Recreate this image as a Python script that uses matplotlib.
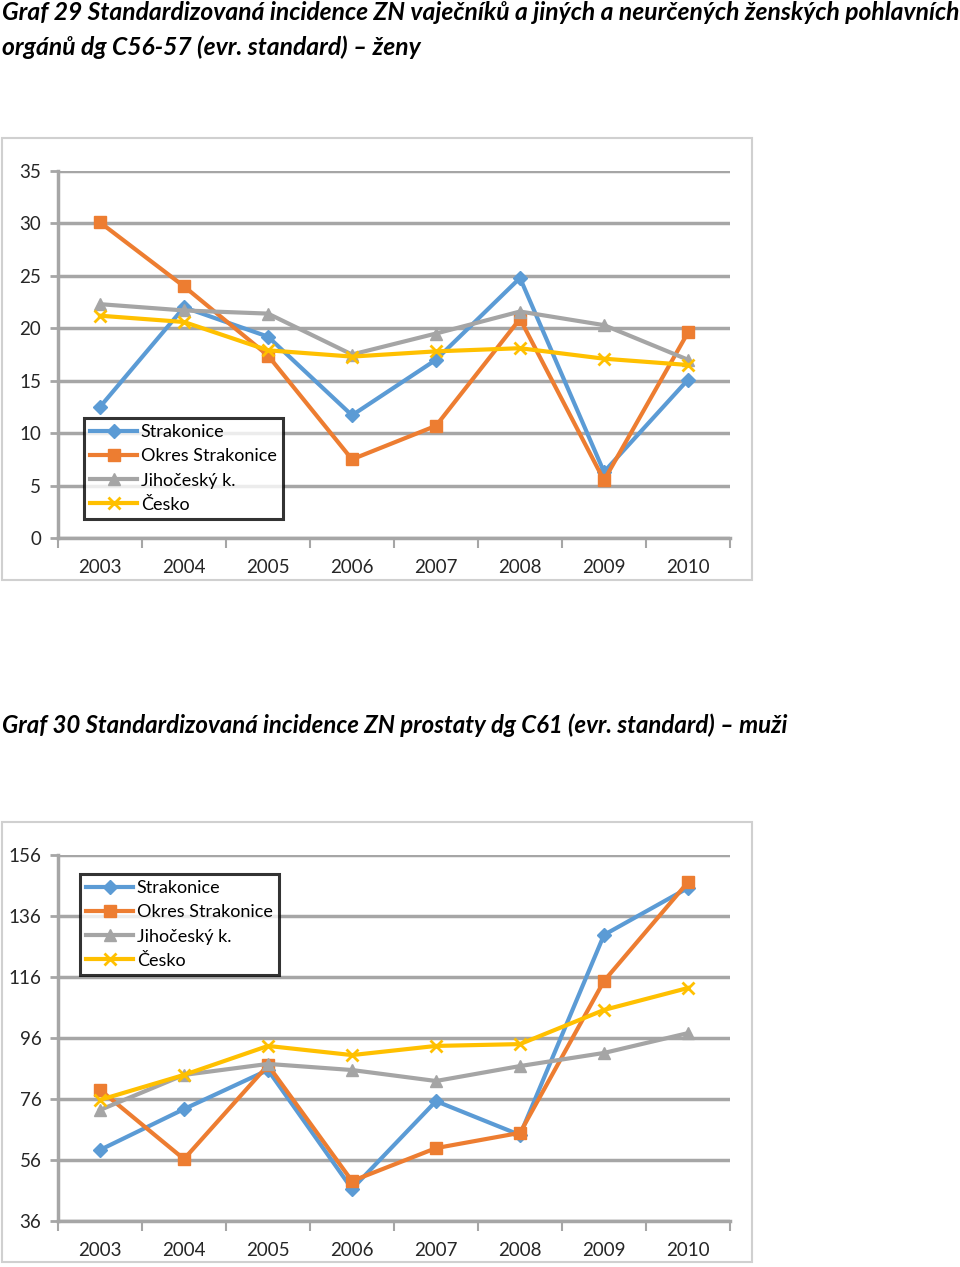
import matplotlib
matplotlib.use('Agg')
import matplotlib.pyplot as plt
from matplotlib.patches import Rectangle

plt.rcParams['font.family'] = ['Lato', 'DejaVu Sans']

# Shared categories and series names
years = ['2003', '2004', '2005', '2006', '2007', '2008', '2009', '2010']
series_names = ['Strakonice', 'Okres Strakonice', 'Jihočeský k.', 'Česko']

# Graf 29 - ženy, C56-57
g29_strakonice = [12.5, 22.0, 19.2, 11.7, 17.0, 24.8, 6.3, 15.1]
g29_okres = [30.1, 24.0, 17.4, 7.5, 10.7, 20.9, 5.5, 19.6]
g29_jihocesky = [22.3, 21.7, 21.4, 17.5, 19.5, 21.6, 20.3, 17.0]
g29_cesko = [21.2, 20.6, 17.9, 17.3, 17.8, 18.1, 17.1, 16.5]
g29_yticks = [0, 5, 10, 15, 20, 25, 30, 35]

# Graf 30 - muži, C61
g30_strakonice = [59.3, 72.7, 85.5, 46.5, 75.3, 64.2, 129.8, 145.2]
g30_okres = [79.0, 56.3, 87.1, 49.1, 59.9, 64.9, 114.7, 147.1]
g30_jihocesky = [72.4, 83.9, 87.5, 85.5, 81.9, 86.8, 91.1, 97.6]
g30_cesko = [75.7, 83.9, 93.4, 90.4, 93.4, 94.0, 105.2, 112.4]
g30_yticks = [36, 56, 76, 96, 116, 136, 156]

title29 = ('Graf 29 Standardizovaná incidence ZN vaječníků a jiných a neurčených ženských pohlavních\n'
           'orgánů dg C56-57 (evr. standard) – ženy')
title30 = 'Graf 30 Standardizovaná incidence ZN prostaty dg C61 (evr. standard) – muži'

colors = ['#5B9BD5', '#ED7D31', '#A5A5A5', '#FFC000']
markers = ['D', 's', '^', 'x']
msizes = [7, 8, 8, 9]
grid_col = '#A6A6A6'

W, H = 960, 1267
fig = plt.figure(figsize=(W / 100, H / 100), dpi=100)


def fx(px):
    return px / W


def fy(py):
    return 1 - py / H


def draw_chart(ax, data, yticks, legend_anchor):
    x = range(len(years))
    for vals, name, c, m, ms in zip(data, series_names, colors, markers, msizes):
        ax.plot(x, vals, color=c, lw=3, marker=m, markersize=ms,
                markeredgewidth=2 if m == 'x' else 1, markeredgecolor=c,
                label=name, zorder=3)
    ax.set_xlim(-0.5, len(years) - 0.5)
    ax.set_ylim(yticks[0], yticks[-1])
    ax.set_yticks(yticks)
    ax.set_xticks(x)
    ax.set_xticklabels(years)
    ax.set_xticks([i - 0.5 for i in range(len(years) + 1)], minor=True)
    ax.tick_params(axis='x', which='major', length=0, pad=15, labelsize=13.5,
                   labelcolor='#262626')
    ax.tick_params(axis='x', which='minor', length=7, width=1.5, color=grid_col)
    ax.tick_params(axis='y', length=6, width=2, color=grid_col, labelsize=13.5, pad=6,
                   labelcolor='#262626')
    ax.grid(axis='y', color=grid_col, lw=2.5, zorder=0)
    for s in ['top', 'right']:
        ax.spines[s].set_visible(False)
    for s in ['left', 'bottom']:
        ax.spines[s].set_color(grid_col)
        ax.spines[s].set_linewidth(2.5)
    leg = ax.legend(loc='upper left', bbox_to_anchor=legend_anchor, borderaxespad=0,
                    fontsize=13, frameon=True, fancybox=False, handlelength=2.6,
                    handletextpad=0.2, labelspacing=0.45, borderpad=0.35)
    leg.get_frame().set_edgecolor('black')
    leg.get_frame().set_linewidth(2.2)
    leg.set_zorder(5)


# Chart frames
fig.patches.append(Rectangle((fx(2), fy(580)), 750 / W, 442 / H, transform=fig.transFigure,
                             fill=False, edgecolor='#D0D0D0', lw=1.5))
fig.patches.append(Rectangle((fx(2), fy(1262)), 750 / W, 440 / H, transform=fig.transFigure,
                             fill=False, edgecolor='#D0D0D0', lw=1.5))

fig.text(fx(2), fy(1), title29, ha='left', va='top', fontsize=17.7,
         fontweight='bold', fontstyle='italic', linespacing=1.6)
fig.text(fx(2), fy(713), title30, ha='left', va='top', fontsize=17.3,
         fontweight='bold', fontstyle='italic')

ax1 = fig.add_axes([fx(58), fy(538), 672 / W, 367 / H])
draw_chart(ax1, [g29_strakonice, g29_okres, g29_jihocesky, g29_cesko], g29_yticks,
           ((84 - 58) / 672, (538 - 418) / 367))

ax2 = fig.add_axes([fx(58), fy(1221), 672 / W, 366 / H])
draw_chart(ax2, [g30_strakonice, g30_okres, g30_jihocesky, g30_cesko], g30_yticks,
           ((80 - 58) / 672, (1221 - 874) / 366))

fig.savefig('out.png', dpi=100)
